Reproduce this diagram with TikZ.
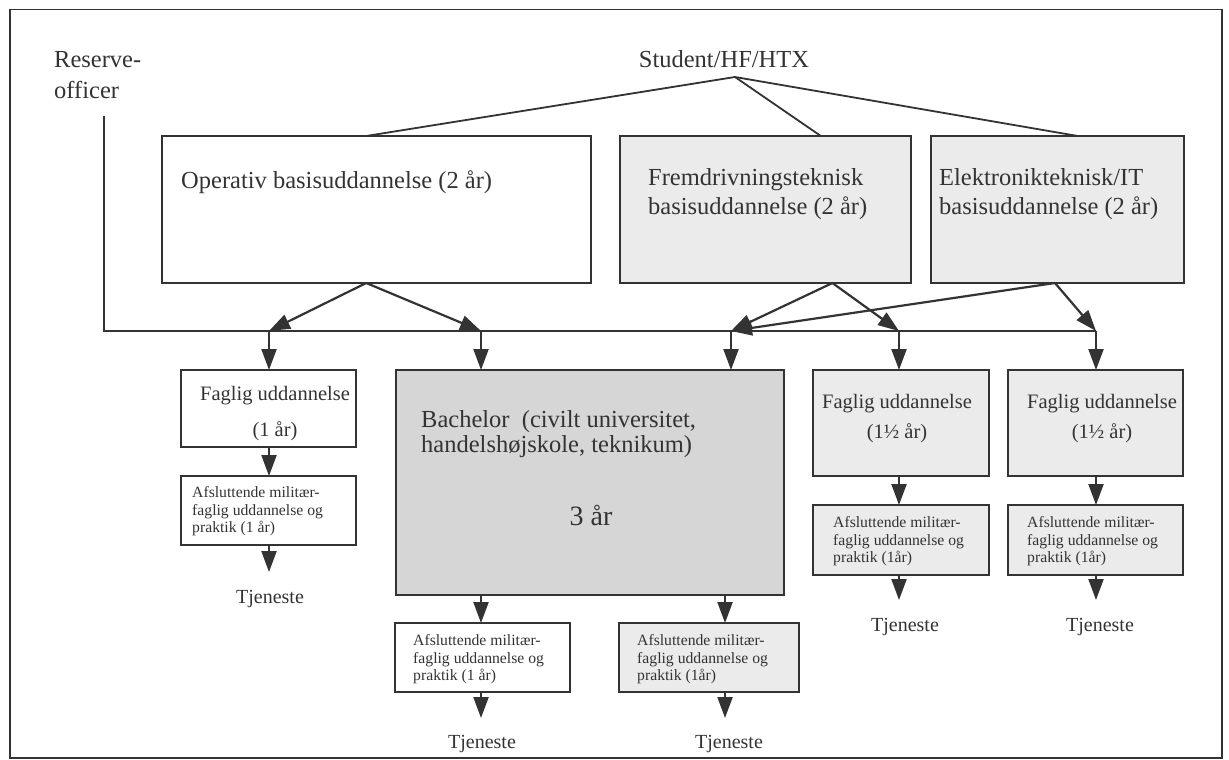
\documentclass[tikz,border=0pt]{standalone}
\usepackage{fontspec}
\setmainfont{Liberation Serif}
\usetikzlibrary{arrows.meta,calc}
\definecolor{lgray}{HTML}{EBEBEB}
\definecolor{dgray}{HTML}{D6D6D6}
\definecolor{ink}{HTML}{333333}
\begin{document}
\begin{tikzpicture}[x=1pt,y=-1pt,
  box/.style={draw=ink, line width=2pt, anchor=north west, inner sep=0pt, outer sep=0pt},
  gbox/.style={box, fill=lgray},
  conn/.style={line width=1.8pt, draw=ink},
  arr/.style={line width=2.2pt, draw=ink, fill=ink, -{Triangle[width=15pt,length=21pt]}},
  fbig/.style={inner sep=0pt, text=ink, font=\fontsize{24.5}{29}\selectfont},
  fmid/.style={inner sep=0pt, text=ink, align=center, anchor=north},
  fsmall/.style={inner sep=0pt, text=ink, font=\fontsize{15.7}{17.8}\selectfont, align=left, anchor=north west},
  ftj/.style={inner sep=0pt, text=ink, font=\fontsize{20}{24}\selectfont, anchor=base},
]
\useasboundingbox (0,0) rectangle (1229,760);
\node[draw=ink, line width=1.5pt, minimum width=1212pt, minimum height=748pt, anchor=north west, inner sep=0pt] (frame) at (9,9) {};

% boxes
\node[box, minimum width=429pt, minimum height=147pt] (op) at (162,136) {};
\node[gbox, minimum width=291pt, minimum height=147pt] (fr) at (620,136) {};
\node[gbox, minimum width=253pt, minimum height=147pt] (el) at (931,136) {};
\node[box, minimum width=175pt, minimum height=77pt] (f1) at (181,370) {};
\node[box, minimum width=175pt, minimum height=69pt] (a1) at (181,476) {};
\node[box, fill=dgray, minimum width=388pt, minimum height=225pt] (ba) at (396,370) {};
\node[box, minimum width=175pt, minimum height=69pt] (a2) at (395,623) {};
\node[gbox, minimum width=180pt, minimum height=69pt] (a3) at (619,623) {};
\node[gbox, minimum width=176pt, minimum height=106pt] (fa) at (813,370) {};
\node[gbox, minimum width=175pt, minimum height=106pt] (fb) at (1008,370) {};
\node[gbox, minimum width=176pt, minimum height=70pt] (aa) at (813,505) {};
\node[gbox, minimum width=175pt, minimum height=70pt] (ab) at (1008,505) {};

% texts
\node[fbig, font=\fontsize{24.5}{31}\selectfont, align=left, anchor=north west] (res) at (54,51) {Reserve-\\officer};
\node[fbig, anchor=base] (stu) at (724,67) {Student/HF/HTX};
\node[fbig, anchor=base west] (opt) at (181,188) {Operativ basisuddannelse (2 år)};
\node[fbig, align=left, anchor=north west] (frt) at (648,168) {Fremdrivningsteknisk\\basisuddannelse (2 år)};
\node[fbig, align=left, anchor=north west] (elt) at (939,168) {Elektronikteknisk/IT\\basisuddannelse (2 år)};
\node[fmid, font=\fontsize{20.5}{36}\selectfont] (f1t) at (275,386) {Faglig uddannelse\\(1 år)};
\node[fmid, font=\fontsize{20.5}{30}\selectfont] (fat) at (897,394) {Faglig uddannelse\\(1½ år)};
\node[fmid, font=\fontsize{20.5}{30}\selectfont] (fbt) at (1102,394) {Faglig uddannelse\\(1½ år)};
\node[fbig, font=\fontsize{24.5}{25}\selectfont, align=left, anchor=north west] (bat) at (421,410) {Bachelor\ \ (civilt universitet,\\handelshøjskole, teknikum)};
\node[fbig, font=\fontsize{28}{30}\selectfont, anchor=base] (bay) at (591,525) {3 år};
\node[fsmall] (a1t) at (192,486) {Afsluttende militær-\\faglig uddannelse og\\praktik (1 år)};
\node[fsmall] (a2t) at (413,634) {Afsluttende militær-\\faglig uddannelse og\\praktik (1 år)};
\node[fsmall] (a3t) at (637,634) {Afsluttende militær-\\faglig uddannelse og\\praktik (1år)};
\node[fsmall] (aat) at (833,516) {Afsluttende militær-\\faglig uddannelse og\\praktik (1år)};
\node[fsmall] (abt) at (1027,516) {Afsluttende militær-\\faglig uddannelse og\\praktik (1år)};
\node[ftj] (tj1) at (270,603) {Tjeneste};
\node[ftj] (tj2) at (482,748) {Tjeneste};
\node[ftj] (tj3) at (729,748) {Tjeneste};
\node[ftj] (tja) at (905,631) {Tjeneste};
\node[ftj] (tjb) at (1100,631) {Tjeneste};

% coordinates
\coordinate (apex) at (735,77);
\coordinate (rtop) at (104,116);
\coordinate (j1) at (269,331);
\coordinate (j2) at (481,331);
\coordinate (j3) at (731,331);
\coordinate (j4) at (899,331);
\coordinate (j5) at (1096,331);
\coordinate (bb) at ($(ba.south west)!0.848!(ba.south east)$);

% lines from Student
\draw[conn] (apex) -- ($(op.north west)!0.476!(op.north east)$);
\draw[conn] (apex) -- ($(fr.north west)!0.69!(fr.north east)$);
\draw[conn] (apex) -- ($(el.north west)!0.58!(el.north east)$);

% reserve line
\draw[conn] (rtop) |- (j5);

% diagonal arrows
\draw[arr] ($(op.south west)!0.476!(op.south east)$) -- (j1);
\draw[arr] ($(op.south west)!0.476!(op.south east)$) -- (j2);
\draw[arr] ($(fr.south west)!0.73!(fr.south east)$) -- (j3);
\draw[arr] ($(fr.south west)!0.73!(fr.south east)$) -- (j4);
\draw[arr] ($(el.south west)!0.49!(el.south east)$) -- (j3);
\draw[arr] ($(el.south west)!0.49!(el.south east)$) -- (j5);

% vertical arrows
\draw[arr] (j1) -- (j1 |- f1.north);
\draw[arr] (j2) -- (j2 |- ba.north);
\draw[arr] (j3) -- (j3 |- ba.north);
\draw[arr] (j4) -- (j4 |- fa.north);
\draw[arr] (j5) -- (j5 |- fb.north);

\draw[arr] (j1 |- f1.south) -- (j1 |- a1.north);
\draw[arr] (j1 |- a1.south) -- ++(0,27);
\draw[arr] (j2 |- ba.south) -- (j2 |- a2.north);
\draw[arr] (bb) -- (bb |- a3.north);
\draw[arr] (j2 |- a2.south) -- ++(0,26);
\draw[arr] (bb |- a3.south) -- ++(0,26);
\draw[arr] (j4 |- fa.south) -- (j4 |- aa.north);
\draw[arr] (j4 |- aa.south) -- ++(0,25);
\draw[arr] (j5 |- fb.south) -- (j5 |- ab.north);
\draw[arr] (j5 |- ab.south) -- ++(0,25);
\end{tikzpicture}
\end{document}
